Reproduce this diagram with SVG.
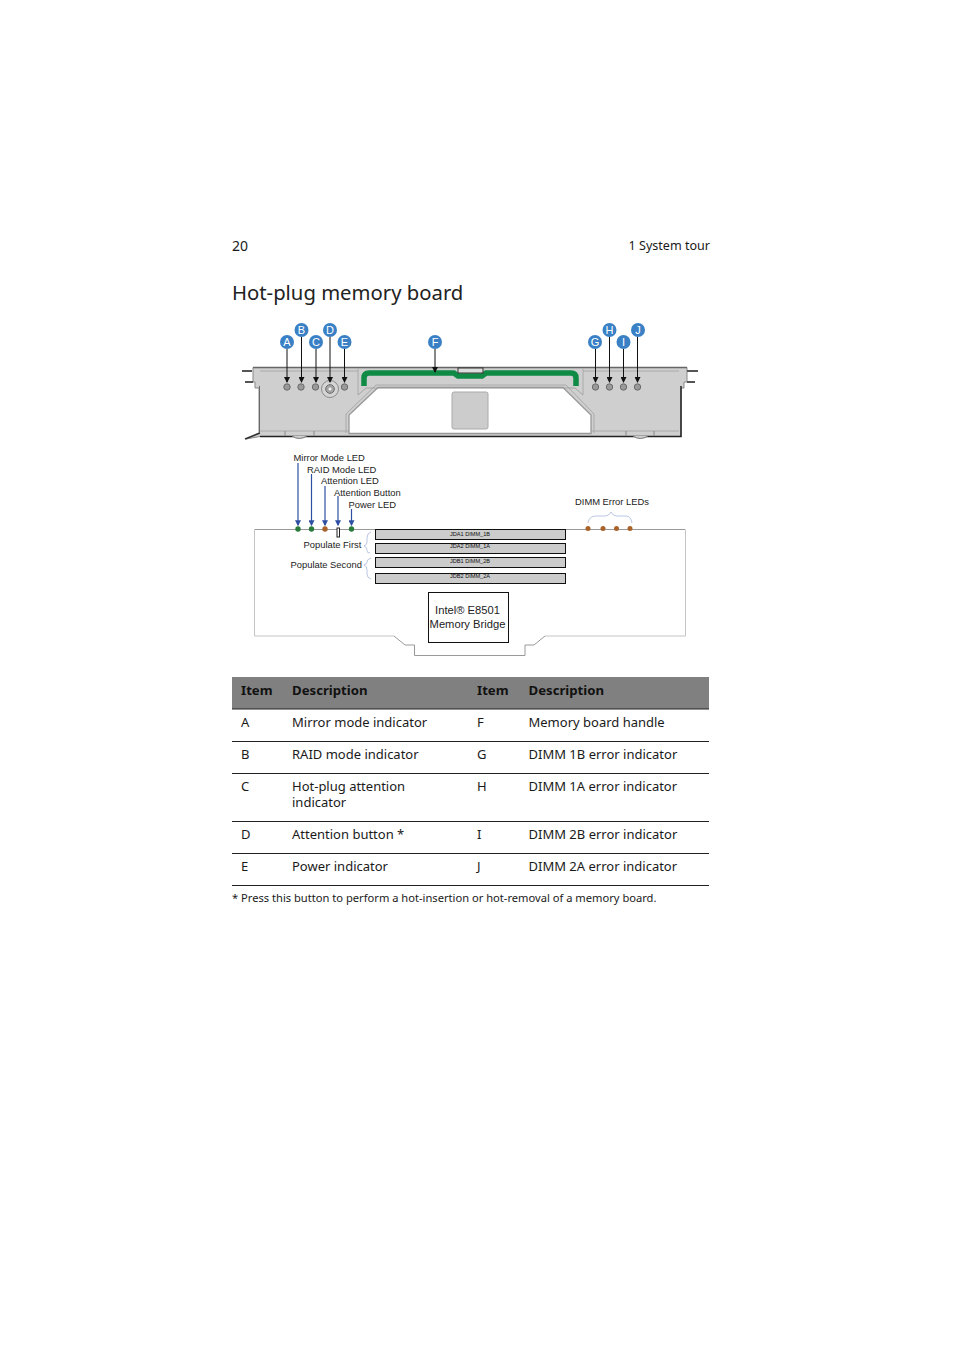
<svg xmlns="http://www.w3.org/2000/svg" width="954" height="1351" viewBox="0 0 954 1351">
<style>
.t{font-family:"Noto Sans","Open Sans",sans-serif;font-size:13px;fill:#1a1a1a}
.b{font-weight:700;fill:#111;font-size:13.2px}
.a{font-family:"Liberation Sans",Arial,sans-serif;font-size:9.4px;fill:#222}
.m{font-family:"Liberation Sans",Arial,sans-serif;font-size:5.6px;fill:#111;text-anchor:middle}
.c{fill:#3a80c4}
.l{font-family:"Liberation Sans",Arial,sans-serif;font-size:11px;fill:#fff;text-anchor:middle}
.ld{stroke:#111;stroke-width:1;fill:none;marker-end:url(#ka)}
.bl{stroke:#2f4fa3;stroke-width:1.200;fill:none;marker-end:url(#ba)}
.dot{fill:#999;stroke:#6a6a6a;stroke-width:1}
.dimm{fill:#ccc;stroke:#111;stroke-width:1}
.rule{stroke:#222;stroke-width:1}
.br{fill:none;stroke:#aab8da;stroke-width:.8}
</style>
<defs>
<marker id="ka" markerWidth="6" markerHeight="6" refX="5" refY="3" orient="auto"><path d="M0 0L6 3L0 6Z" fill="#111"/></marker>
<marker id="ba" markerWidth="5" markerHeight="5" refX="4" refY="2.500" orient="auto"><path d="M0 0L5 2.500L0 5Z" fill="#2f4fa3"/></marker>
</defs>

<g id="page-header">
<text class="t" x="232" y="250.500" style="font-size:14px">20</text>
<text class="t" x="710" y="250" text-anchor="end" style="font-size:12.550px">1 System tour</text>
<text class="t" x="232" y="300" style="font-size:20.300px;fill:#222">Hot-plug memory board</text>
</g>

<g id="board">
<path d="M253 367.500H687V382H684V388H681V436.500H260L246 439L259 433V388H255V382H253Z" fill="#cfcfd0" stroke="#888" stroke-width="1"/>
<path d="M253 367.500H687" stroke="#666" stroke-width="1.500" fill="none"/>
<path d="M260 436.500H681V386" stroke="#222" stroke-width="1.500" fill="none"/>
<path d="M259.500 386V432" stroke="#666" stroke-width="1" fill="none"/>
<path d="M260 371H358M583 371H679M260 431H349M591 431H679M358 368V395M583 368V395" stroke="#aaa" stroke-width="1" fill="none"/>
<path d="M242 371H252M245 382H253M687 371H698M687 382H695" stroke="#555" stroke-width="2" fill="none"/>
<path d="M245 439L260 433" stroke="#333" stroke-width="1.500" fill="none"/>
<path d="M292 436Q299 441 307 436M633 436Q640 441 648 436" fill="#cfcfd0" stroke="#777"/>
<path d="M285 431V436M314 431V436M626 431V436M654 431V436" stroke="#888" fill="none"/>
<path d="M346 433V414L376 385H566L594 414V433" fill="none" stroke="#aaa" stroke-width="1"/>
<path id="window" d="M349 433.500V415L378 387.500H563L591 415V433.500Z" fill="#fff" stroke="#999" stroke-width="1.300"/>
<rect x="452" y="392" width="36" height="37" rx="2" fill="#ccc" stroke="#aaa"/>
<path d="M358 395L366 388H575L583 395" stroke="#999" fill="none" stroke-width=".8"/>
<path id="handle" d="M364 386V378Q364 373 369 373H454L458 376H482L486 373H571Q576 373 576 378V386" fill="none" stroke="#0f8b46" stroke-width="5.500"/>
<rect x="458" y="368" width="25" height="5" fill="#ddd" stroke="#333"/>
<circle class="dot" cx="287" cy="387" r="3.200"/><circle class="dot" cx="301" cy="387" r="3.200"/><circle class="dot" cx="315.500" cy="387" r="3.200"/><circle class="dot" cx="344.500" cy="387" r="3.200"/>
<circle class="dot" cx="595.500" cy="387" r="3.200"/><circle class="dot" cx="609.500" cy="387" r="3.200"/><circle class="dot" cx="623.500" cy="387" r="3.200"/><circle class="dot" cx="637.500" cy="387" r="3.200"/>
<circle cx="330" cy="389" r="8.500" fill="#d5d5d5" stroke="#777" stroke-width=".8"/>
<circle cx="330" cy="389" r="4.300" fill="#aaa" stroke="#666"/>
<circle cx="330" cy="389" r="2" fill="#f2f2f2" stroke="#777" stroke-width=".5"/>
</g>

<g id="connectors">
<path class="ld" d="M287 349V382"/><path class="ld" d="M301.500 337V382"/><path class="ld" d="M316 349V382"/><path class="ld" d="M330 337V382"/><path class="ld" d="M344.500 349V382"/>
<path class="ld" d="M435 349V372"/>
<path class="ld" d="M595.500 349V382"/><path class="ld" d="M609.500 337V382"/><path class="ld" d="M623.500 349V382"/><path class="ld" d="M637.500 337V382"/>
<path class="bl" d="M298 463V525"/><path class="bl" d="M311.500 474V525"/><path class="bl" d="M325 486V525"/><path class="bl" d="M338 496V525"/><path class="bl" d="M351.500 509V525"/>
</g>

<g id="callouts">
<g id="callout-A"><circle class="c" cx="287" cy="342" r="7"/><text class="l" x="287" y="346">A</text></g>
<g id="callout-B"><circle class="c" cx="301.500" cy="330" r="7"/><text class="l" x="301.500" y="334">B</text></g>
<g id="callout-C"><circle class="c" cx="316" cy="342" r="7"/><text class="l" x="316" y="346">C</text></g>
<g id="callout-D"><circle class="c" cx="330" cy="330" r="7"/><text class="l" x="330" y="334">D</text></g>
<g id="callout-E"><circle class="c" cx="344.500" cy="342" r="7"/><text class="l" x="344.500" y="346">E</text></g>
<g id="callout-F"><circle class="c" cx="435" cy="342" r="7"/><text class="l" x="435" y="346">F</text></g>
<g id="callout-G"><circle class="c" cx="595" cy="342" r="7"/><text class="l" x="595" y="346">G</text></g>
<g id="callout-H"><circle class="c" cx="609.500" cy="330" r="7"/><text class="l" x="609.500" y="334">H</text></g>
<g id="callout-I"><circle class="c" cx="623.500" cy="342" r="7"/><text class="l" x="623.500" y="346">I</text></g>
<g id="callout-J"><circle class="c" cx="638" cy="330" r="7"/><text class="l" x="638" y="334">J</text></g>
</g>

<g id="schematic">
<path d="M254.500 529.500H685" stroke="#999" fill="none"/>
<path d="M254.500 529.500V636H394M545 636H685.500V529.500" stroke="#c4c4c4" fill="none"/>
<path d="M394 636L405 645H414.500V655.500H525V645H534L545 636" stroke="#999" fill="none"/>
<g id="led-mirror"><circle cx="298" cy="529" r="2.700" fill="#2a7a3a"/></g>
<g id="led-raid"><circle cx="311.500" cy="529" r="2.700" fill="#2a7a3a"/></g>
<g id="led-attention"><circle cx="325" cy="529" r="2.700" fill="#a8622a"/></g>
<g id="button-attention"><rect x="337" y="528" width="2.500" height="9" fill="#fff" stroke="#222"/></g>
<g id="led-power"><circle cx="351.500" cy="529" r="2.700" fill="#2a7a3a"/></g>
<g id="dimm-leds" fill="#a8622a"><circle cx="588" cy="528.500" r="2.500"/><circle cx="603" cy="528.500" r="2.500"/><circle cx="616.500" cy="528.500" r="2.500"/><circle cx="630" cy="528.500" r="2.500"/></g>
<path class="br" d="M588 523Q589 516 596 516H605Q609 516 611 512Q613 516 617 516H626Q631 516 632 523"/>
<path class="br" d="M371 532Q367 533 367 538V542Q367 545 364 546Q367 547 367 550V551Q367 553 370 553"/>
<path class="br" d="M371 558Q367 559 367 562Q367 564 364 565Q367 566 367 570V574Q367 578 371 579"/>
<g id="dimm-1b"><rect class="dimm" x="375.500" y="529.500" width="190" height="10"/><text class="m" x="470" y="535.500">JDA1 DIMM_1B</text></g>
<g id="dimm-1a"><rect class="dimm" x="375.500" y="543.500" width="190" height="10"/><text class="m" x="470" y="548">JDA2 DIMM_1A</text></g>
<g id="dimm-2b"><rect class="dimm" x="375.500" y="557.500" width="190" height="10"/><text class="m" x="470" y="563">JDB1 DIMM_2B</text></g>
<g id="dimm-2a"><rect class="dimm" x="375.500" y="573.500" width="190" height="10"/><text class="m" x="470" y="578">JDB2 DIMM_2A</text></g>
<g id="bridge"><rect x="428.500" y="592.500" width="80" height="50" fill="#fff" stroke="#111"/>
<text x="467.500" y="614" text-anchor="middle" class="a" style="font-size:11.200px">Intel® E8501</text>
<text x="467.500" y="627.500" text-anchor="middle" class="a" style="font-size:11.200px">Memory Bridge</text></g>
<text class="a" x="293.500" y="461">Mirror Mode LED</text>
<text class="a" x="307" y="473">RAID Mode LED</text>
<text class="a" x="321" y="484">Attention LED</text>
<text class="a" x="334" y="496">Attention Button</text>
<text class="a" x="348.500" y="508">Power LED</text>
<text class="a" x="575" y="505">DIMM Error LEDs</text>
<text class="a" x="303.500" y="548">Populate First</text>
<text class="a" x="290.500" y="568">Populate Second</text>
</g>

<g id="table">
<rect x="232" y="677" width="477" height="32" fill="#808080"/>
<path class="rule" d="M232 709H709M232 741.500H709M232 773.500H709M232 821.500H709M232 853.500H709M232 885.500H709"/>
<text class="t b" x="241" y="695">Item</text><text class="t b" x="292" y="695">Description</text><text class="t b" x="477" y="695">Item</text><text class="t b" x="528.500" y="695">Description</text>
<text class="t" x="241" y="727">A</text><text class="t" x="292" y="727">Mirror mode indicator</text><text class="t" x="477" y="727">F</text><text class="t" x="528.500" y="727">Memory board handle</text>
<text class="t" x="241" y="759">B</text><text class="t" x="292" y="759">RAID mode indicator</text><text class="t" x="477" y="759">G</text><text class="t" x="528.500" y="759">DIMM 1B error indicator</text>
<text class="t" x="241" y="791">C</text><text class="t" x="292" y="791">Hot-plug attention</text><text class="t" x="292" y="807">indicator</text><text class="t" x="477" y="791">H</text><text class="t" x="528.500" y="791">DIMM 1A error indicator</text>
<text class="t" x="241" y="839">D</text><text class="t" x="292" y="839">Attention button *</text><text class="t" x="477" y="839">I</text><text class="t" x="528.500" y="839">DIMM 2B error indicator</text>
<text class="t" x="241" y="871">E</text><text class="t" x="292" y="871">Power indicator</text><text class="t" x="477" y="871">J</text><text class="t" x="528.500" y="871">DIMM 2A error indicator</text>
<text class="t" x="232" y="902" style="font-size:11.150px">* Press this button to perform a hot-insertion or hot-removal of a memory board.</text>
</g>
</svg>
